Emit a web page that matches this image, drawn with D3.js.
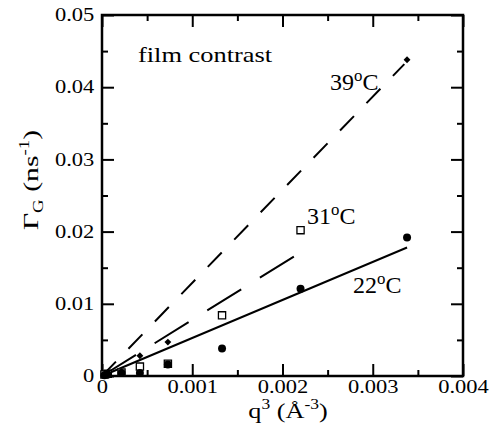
<!DOCTYPE html>
<html><head><meta charset="utf-8">
<script src="https://cdn.jsdelivr.net/npm/d3@7"></script>
<style>body{margin:0;background:#fff}svg{display:block}text{font-family:"Liberation Serif","Times New Roman",serif;fill:#000}</style>
</head><body>
<script>
// ---- data ----
const xTicks = [0, 0.001, 0.002, 0.003, 0.004];
const xMinor = [0.0005, 0.0015, 0.0025, 0.0035];
const yTicks = [0, 0.01, 0.02, 0.03, 0.04, 0.05];
const yMinor = [0.005, 0.015, 0.025, 0.035, 0.045];

const q39 = [0.000027, 0.000064, 0.000216, 0.00042, 0.00073, 0.00338];
const g39 = [0.0002, 0.0005, 0.0006, 0.0028, 0.0047, 0.0438];
const q31 = [0.000027, 0.000064, 0.000216, 0.00042, 0.00073, 0.00133, 0.0022];
const g31 = [0.0002, 0.0003, 0.0005, 0.0013, 0.0017, 0.0084, 0.0202];
const q22 = [0.000027, 0.000064, 0.000216, 0.00042, 0.00073, 0.00133, 0.0022, 0.00338];
const g22 = [0.0001, 0.0002, 0.0004, 0.0004, 0.0016, 0.0038, 0.0121, 0.0192];

const fit39X = [0, 0.00335], fit39Y = [0, 0.0432];
const fit31X = [0, 0.00221], fit31Y = [0, 0.0172];
const fit22X = [0, 0.00338], fit22Y = [0, 0.0178];

const W = 492, H = 439;
const svg = d3.select("body").append("svg").attr("width", W).attr("height", H);
const x = d3.scaleLinear().domain([0, 0.004]).range([102, 463]);
const y = d3.scaleLinear().domain([0, 0.05]).range([376, 15]);
const SX = 1.25;

function styleAxis(g){ g.select(".domain").remove(); g.selectAll("line").attr("stroke","#000").attr("stroke-width",2); }
const fx = d => d === 0 ? "0" : d3.format(".3f")(d);
const fy = d => d === 0 ? "0" : d3.format(".2f")(d);

// bottom
svg.append("g").attr("transform",`translate(0,${y(0)})`)
  .call(d3.axisBottom(x).tickValues(xTicks).tickSize(-12).tickPadding(4).tickFormat(fx))
  .call(styleAxis)
  .call(g=>g.selectAll("text").attr("font-size",18).attr("font-family","Liberation Serif").attr("transform",`scale(${SX},1)`));
svg.append("g").attr("transform",`translate(0,${y(0)})`)
  .call(d3.axisBottom(x).tickValues(xMinor).tickSize(-6).tickFormat("")).call(styleAxis);
// top
svg.append("g").attr("transform",`translate(0,${y(0.05)})`)
  .call(d3.axisTop(x).tickValues(xTicks).tickSize(-12).tickFormat("")).call(styleAxis);
svg.append("g").attr("transform",`translate(0,${y(0.05)})`)
  .call(d3.axisTop(x).tickValues(xMinor).tickSize(-6).tickFormat("")).call(styleAxis);
// left
svg.append("g").attr("transform",`translate(${x(0)},0)`)
  .call(d3.axisLeft(y).tickValues(yTicks).tickSize(-12).tickPadding(6.2).tickFormat(fy))
  .call(styleAxis)
  .call(g=>g.selectAll("text").attr("font-size",18).attr("font-family","Liberation Serif").attr("transform",`scale(${SX},1)`));
svg.append("g").attr("transform",`translate(${x(0)},0)`)
  .call(d3.axisLeft(y).tickValues(yMinor).tickSize(-6).tickFormat("")).call(styleAxis);
// right
svg.append("g").attr("transform",`translate(${x(0.004)},0)`)
  .call(d3.axisRight(y).tickValues(yTicks).tickSize(-12).tickFormat("")).call(styleAxis);
svg.append("g").attr("transform",`translate(${x(0.004)},0)`)
  .call(d3.axisRight(y).tickValues(yMinor).tickSize(-6).tickFormat("")).call(styleAxis);

// frame
svg.append("rect").attr("x",x(0)).attr("y",y(0.05)).attr("width",x(0.004)-x(0)).attr("height",y(0)-y(0.05))
  .attr("fill","none").attr("stroke","#000").attr("stroke-width",2.5);

// fit lines
const line = d3.line().x(d=>x(d[0])).y(d=>y(d[1]));
svg.append("path").datum(d3.zip(fit39X, fit39Y)).attr("d",line).attr("fill","none").attr("stroke","#000").attr("stroke-width",2).attr("stroke-dasharray","20,18");
svg.append("path").datum(d3.zip(fit31X, fit31Y)).attr("d",line).attr("fill","none").attr("stroke","#000").attr("stroke-width",2).attr("stroke-dasharray","40,22");
svg.append("path").datum(d3.zip(fit22X, fit22Y)).attr("d",line).attr("fill","none").attr("stroke","#000").attr("stroke-width",2);

// markers
svg.append("g").selectAll("path").data(d3.zip(q31,g31)).join("path")
  .attr("d", d3.symbol(d3.symbolSquare, 52)())
  .attr("transform", d=>`translate(${x(d[0])},${y(d[1])})`)
  .attr("fill","#fff").attr("stroke","#000").attr("stroke-width",1.3);
svg.append("g").selectAll("circle").data(d3.zip(q22,g22)).join("circle")
  .attr("cx", d=>x(d[0])).attr("cy", d=>y(d[1])).attr("r",4).attr("fill","#000");
svg.append("g").selectAll("path").data(d3.zip(q39,g39)).join("path")
  .attr("d", d3.symbol(d3.symbolDiamond2, 30)())
  .attr("transform", d=>`translate(${x(d[0])},${y(d[1])})`)
  .attr("fill","#000");

// annotations
function ann(px, py, main, size){
  const t = svg.append("text").attr("x",px).attr("y",py).attr("font-size",size);
  t.append("tspan").text(main);
  t.append("tspan").attr("font-size",size*0.7).attr("dy",-size*0.38).text("o");
  t.append("tspan").attr("dy",size*0.38).text("C");
}
svg.append("text").attr("transform","translate(138,62) scale(1.2,1)").attr("font-size",22).text("film contrast");
ann(330, 90, "39", 24);
ann(307, 224, "31", 24);
ann(353, 293, "22", 24);

// axis titles
const xt = svg.append("text").attr("transform",`translate(288,418) scale(1.25,1)`).attr("text-anchor","middle").attr("font-size",21);
xt.append("tspan").text("q");
xt.append("tspan").attr("font-size",14).attr("dy",-9).text("3");
xt.append("tspan").attr("dy",9).text(" (Å");
xt.append("tspan").attr("font-size",14).attr("dy",-9).text("-3");
xt.append("tspan").attr("dy",9).text(")");

const yt = svg.append("text").attr("transform",`translate(38,180) rotate(-90) scale(1.35,1)`).attr("text-anchor","middle").attr("font-size",22);
yt.append("tspan").text("Γ");
yt.append("tspan").attr("font-size",14).attr("dy",5).text("G");
yt.append("tspan").attr("dy",-5).text(" (ns");
yt.append("tspan").attr("font-size",14).attr("dy",-9).text("-1");
yt.append("tspan").attr("dy",9).text(")");
</script>
</body></html>
